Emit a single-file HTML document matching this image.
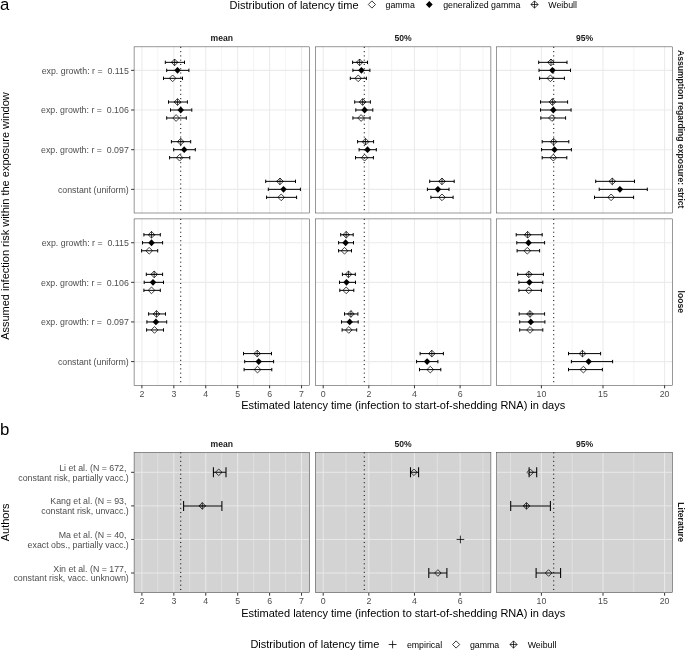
<!DOCTYPE html>
<html><head><meta charset="utf-8"><title>Latency time figure</title>
<style>html,body{margin:0;padding:0;background:#fff}svg{display:block}</style>
</head><body>
<svg width="685" height="651" viewBox="0 0 685 651" font-family="'Liberation Sans', sans-serif">
<rect width="685" height="651" fill="#fff"/>
<rect x="134.1" y="46.85" width="175.4" height="166.15" fill="#fff"/>
<path d="M157.87 46.85V213M189.8 46.85V213M221.73 46.85V213M253.66 46.85V213M285.59 46.85V213" stroke="#ebebeb" stroke-width="0.53" fill="none"/>
<path d="M141.9 46.85V213M173.83 46.85V213M205.76 46.85V213M237.69 46.85V213M269.62 46.85V213M301.55 46.85V213M134.1 70.35H309.5M134.1 110H309.5M134.1 149.7H309.5M134.1 189.35H309.5" stroke="#ebebeb" stroke-width="1.07" fill="none"/>
<path d="M180.72 46.85V213" stroke="#000" stroke-width="1" stroke-dasharray="1.05 3.22" fill="none"/>
<path d="M165.3 62.35H184.5M165.3 60.65V64.05M184.5 60.65V64.05" stroke="#000" stroke-width="1.0" fill="none"/>
<polygon points="174.6,59 177.95,62.35 174.6,65.7 171.25,62.35" fill="none" stroke="#000" stroke-width="0.75"/><path d="M171.25 62.35H177.95M174.6 59V65.7" stroke="#000" stroke-width="0.75" fill="none"/>
<path d="M166.7 70.35H188.9M166.7 68.65V72.05M188.9 68.65V72.05" stroke="#000" stroke-width="1.0" fill="none"/>
<polygon points="177.5,66.93 180.78,70.35 177.5,73.77 174.22,70.35" fill="#000"/>
<path d="M163.5 78.35H182.5M163.5 76.65V80.05M182.5 76.65V80.05" stroke="#000" stroke-width="1.0" fill="none"/>
<polygon points="172.6,75 175.95,78.35 172.6,81.7 169.25,78.35" fill="none" stroke="#000" stroke-width="0.75"/>
<path d="M168.5 102H187.4M168.5 100.3V103.7M187.4 100.3V103.7" stroke="#000" stroke-width="1.0" fill="none"/>
<polygon points="177.5,98.65 180.85,102 177.5,105.35 174.15,102" fill="none" stroke="#000" stroke-width="0.75"/><path d="M174.15 102H180.85M177.5 98.65V105.35" stroke="#000" stroke-width="0.75" fill="none"/>
<path d="M170.5 110H191.8M170.5 108.3V111.7M191.8 108.3V111.7" stroke="#000" stroke-width="1.0" fill="none"/>
<polygon points="180.7,106.58 183.98,110 180.7,113.42 177.42,110" fill="#000"/>
<path d="M166.7 118H186.3M166.7 116.3V119.7M186.3 116.3V119.7" stroke="#000" stroke-width="1.0" fill="none"/>
<polygon points="176.1,114.65 179.45,118 176.1,121.35 172.75,118" fill="none" stroke="#000" stroke-width="0.75"/>
<path d="M171.4 141.7H190.7M171.4 140V143.4M190.7 140V143.4" stroke="#000" stroke-width="1.0" fill="none"/>
<polygon points="180.7,138.35 184.05,141.7 180.7,145.05 177.35,141.7" fill="none" stroke="#000" stroke-width="0.75"/><path d="M177.35 141.7H184.05M180.7 138.35V145.05" stroke="#000" stroke-width="0.75" fill="none"/>
<path d="M173.7 149.7H195.3M173.7 148V151.4M195.3 148V151.4" stroke="#000" stroke-width="1.0" fill="none"/>
<polygon points="184.2,146.28 187.48,149.7 184.2,153.12 180.92,149.7" fill="#000"/>
<path d="M169.6 157.7H189.8M169.6 156V159.4M189.8 156V159.4" stroke="#000" stroke-width="1.0" fill="none"/>
<polygon points="179.6,154.35 182.95,157.7 179.6,161.05 176.25,157.7" fill="none" stroke="#000" stroke-width="0.75"/>
<path d="M265.7 181.35H295.5M265.7 179.65V183.05M295.5 179.65V183.05" stroke="#000" stroke-width="1.0" fill="none"/>
<polygon points="280,178 283.35,181.35 280,184.7 276.65,181.35" fill="none" stroke="#000" stroke-width="0.75"/><path d="M276.65 181.35H283.35M280 178V184.7" stroke="#000" stroke-width="0.75" fill="none"/>
<path d="M268.3 189.35H300.4M268.3 187.65V191.05M300.4 187.65V191.05" stroke="#000" stroke-width="1.0" fill="none"/>
<polygon points="283.5,185.93 286.78,189.35 283.5,192.77 280.22,189.35" fill="#000"/>
<path d="M266.6 197.35H296.6M266.6 195.65V199.05M296.6 195.65V199.05" stroke="#000" stroke-width="1.0" fill="none"/>
<polygon points="281.2,194 284.55,197.35 281.2,200.7 277.85,197.35" fill="none" stroke="#000" stroke-width="0.75"/>
<rect x="134.1" y="46.85" width="175.4" height="166.15" fill="none" stroke="#333" stroke-width="0.5"/>
<rect x="315.3" y="46.85" width="175.6" height="166.15" fill="#fff"/>
<path d="M346.02 46.85V213M391.66 46.85V213M437.3 46.85V213M482.94 46.85V213" stroke="#ebebeb" stroke-width="0.53" fill="none"/>
<path d="M323.2 46.85V213M368.84 46.85V213M414.48 46.85V213M460.12 46.85V213M315.3 70.35H490.9M315.3 110H490.9M315.3 149.7H490.9M315.3 189.35H490.9" stroke="#ebebeb" stroke-width="1.07" fill="none"/>
<path d="M364.28 46.85V213" stroke="#000" stroke-width="1" stroke-dasharray="1.05 3.22" fill="none"/>
<path d="M352.6 62.35H367.5M352.6 60.65V64.05M367.5 60.65V64.05" stroke="#000" stroke-width="1.0" fill="none"/>
<polygon points="359.6,59 362.95,62.35 359.6,65.7 356.25,62.35" fill="none" stroke="#000" stroke-width="0.75"/><path d="M356.25 62.35H362.95M359.6 59V65.7" stroke="#000" stroke-width="0.75" fill="none"/>
<path d="M352.9 70.35H369.9M352.9 68.65V72.05M369.9 68.65V72.05" stroke="#000" stroke-width="1.0" fill="none"/>
<polygon points="361.4,66.93 364.68,70.35 361.4,73.77 358.12,70.35" fill="#000"/>
<path d="M350.3 78.35H366.4M350.3 76.65V80.05M366.4 76.65V80.05" stroke="#000" stroke-width="1.0" fill="none"/>
<polygon points="358.2,75 361.55,78.35 358.2,81.7 354.85,78.35" fill="none" stroke="#000" stroke-width="0.75"/>
<path d="M354.7 102H370.4M354.7 100.3V103.7M370.4 100.3V103.7" stroke="#000" stroke-width="1.0" fill="none"/>
<polygon points="362.6,98.65 365.95,102 362.6,105.35 359.25,102" fill="none" stroke="#000" stroke-width="0.75"/><path d="M359.25 102H365.95M362.6 98.65V105.35" stroke="#000" stroke-width="0.75" fill="none"/>
<path d="M355.8 110H372.8M355.8 108.3V111.7M372.8 108.3V111.7" stroke="#000" stroke-width="1.0" fill="none"/>
<polygon points="364.6,106.58 367.88,110 364.6,113.42 361.32,110" fill="#000"/>
<path d="M352.9 118H370.1M352.9 116.3V119.7M370.1 116.3V119.7" stroke="#000" stroke-width="1.0" fill="none"/>
<polygon points="361.1,114.65 364.45,118 361.1,121.35 357.75,118" fill="none" stroke="#000" stroke-width="0.75"/>
<path d="M357.6 141.7H373.6M357.6 140V143.4M373.6 140V143.4" stroke="#000" stroke-width="1.0" fill="none"/>
<polygon points="365.5,138.35 368.85,141.7 365.5,145.05 362.15,141.7" fill="none" stroke="#000" stroke-width="0.75"/><path d="M362.15 141.7H368.85M365.5 138.35V145.05" stroke="#000" stroke-width="0.75" fill="none"/>
<path d="M359.1 149.7H376.3M359.1 148V151.4M376.3 148V151.4" stroke="#000" stroke-width="1.0" fill="none"/>
<polygon points="367.5,146.28 370.78,149.7 367.5,153.12 364.22,149.7" fill="#000"/>
<path d="M355.5 157.7H373.4M355.5 156V159.4M373.4 156V159.4" stroke="#000" stroke-width="1.0" fill="none"/>
<polygon points="364.6,154.35 367.95,157.7 364.6,161.05 361.25,157.7" fill="none" stroke="#000" stroke-width="0.75"/>
<path d="M429.7 181.35H454.2M429.7 179.65V183.05M454.2 179.65V183.05" stroke="#000" stroke-width="1.0" fill="none"/>
<polygon points="442,178 445.35,181.35 442,184.7 438.65,181.35" fill="none" stroke="#000" stroke-width="0.75"/><path d="M438.65 181.35H445.35M442 178V184.7" stroke="#000" stroke-width="0.75" fill="none"/>
<path d="M427.4 189.35H449M427.4 187.65V191.05M449 187.65V191.05" stroke="#000" stroke-width="1.0" fill="none"/>
<polygon points="437.9,185.93 441.18,189.35 437.9,192.77 434.62,189.35" fill="#000"/>
<path d="M430.9 197.35H453.1M430.9 195.65V199.05M453.1 195.65V199.05" stroke="#000" stroke-width="1.0" fill="none"/>
<polygon points="442,194 445.35,197.35 442,200.7 438.65,197.35" fill="none" stroke="#000" stroke-width="0.75"/>
<rect x="315.3" y="46.85" width="175.6" height="166.15" fill="none" stroke="#333" stroke-width="0.5"/>
<rect x="496.6" y="46.85" width="175.8" height="166.15" fill="#fff"/>
<path d="M510.6 46.85V213M572.2 46.85V213M633.8 46.85V213" stroke="#ebebeb" stroke-width="0.53" fill="none"/>
<path d="M541.4 46.85V213M603 46.85V213M664.6 46.85V213M496.6 70.35H672.4M496.6 110H672.4M496.6 149.7H672.4M496.6 189.35H672.4" stroke="#ebebeb" stroke-width="1.07" fill="none"/>
<path d="M553.72 46.85V213" stroke="#000" stroke-width="1" stroke-dasharray="1.05 3.22" fill="none"/>
<path d="M538.7 62.35H567M538.7 60.65V64.05M567 60.65V64.05" stroke="#000" stroke-width="1.0" fill="none"/>
<polygon points="551,59 554.35,62.35 551,65.7 547.65,62.35" fill="none" stroke="#000" stroke-width="0.75"/><path d="M547.65 62.35H554.35M551 59V65.7" stroke="#000" stroke-width="0.75" fill="none"/>
<path d="M539 70.35H570.5M539 68.65V72.05M570.5 68.65V72.05" stroke="#000" stroke-width="1.0" fill="none"/>
<polygon points="552.4,66.93 555.68,70.35 552.4,73.77 549.12,70.35" fill="#000"/>
<path d="M539.6 78.35H564.4M539.6 76.65V80.05M564.4 76.65V80.05" stroke="#000" stroke-width="1.0" fill="none"/>
<polygon points="550.4,75 553.75,78.35 550.4,81.7 547.05,78.35" fill="none" stroke="#000" stroke-width="0.75"/>
<path d="M540.5 102H567.6M540.5 100.3V103.7M567.6 100.3V103.7" stroke="#000" stroke-width="1.0" fill="none"/>
<polygon points="552.4,98.65 555.75,102 552.4,105.35 549.05,102" fill="none" stroke="#000" stroke-width="0.75"/><path d="M549.05 102H555.75M552.4 98.65V105.35" stroke="#000" stroke-width="0.75" fill="none"/>
<path d="M540.5 110H571.1M540.5 108.3V111.7M571.1 108.3V111.7" stroke="#000" stroke-width="1.0" fill="none"/>
<polygon points="553.3,106.58 556.58,110 553.3,113.42 550.02,110" fill="#000"/>
<path d="M540.8 118H565.6M540.8 116.3V119.7M565.6 116.3V119.7" stroke="#000" stroke-width="1.0" fill="none"/>
<polygon points="551.9,114.65 555.25,118 551.9,121.35 548.55,118" fill="none" stroke="#000" stroke-width="0.75"/>
<path d="M542.2 141.7H568.8M542.2 140V143.4M568.8 140V143.4" stroke="#000" stroke-width="1.0" fill="none"/>
<polygon points="553.6,138.35 556.95,141.7 553.6,145.05 550.25,141.7" fill="none" stroke="#000" stroke-width="0.75"/><path d="M550.25 141.7H556.95M553.6 138.35V145.05" stroke="#000" stroke-width="0.75" fill="none"/>
<path d="M541.6 149.7H571.4M541.6 148V151.4M571.4 148V151.4" stroke="#000" stroke-width="1.0" fill="none"/>
<polygon points="554.5,146.28 557.78,149.7 554.5,153.12 551.22,149.7" fill="#000"/>
<path d="M542.2 157.7H566.8M542.2 156V159.4M566.8 156V159.4" stroke="#000" stroke-width="1.0" fill="none"/>
<polygon points="553.3,154.35 556.65,157.7 553.3,161.05 549.95,157.7" fill="none" stroke="#000" stroke-width="0.75"/>
<path d="M595.7 181.35H634.5M595.7 179.65V183.05M634.5 179.65V183.05" stroke="#000" stroke-width="1.0" fill="none"/>
<polygon points="612.3,178 615.65,181.35 612.3,184.7 608.95,181.35" fill="none" stroke="#000" stroke-width="0.75"/><path d="M608.95 181.35H615.65M612.3 178V184.7" stroke="#000" stroke-width="0.75" fill="none"/>
<path d="M599.2 189.35H647.3M599.2 187.65V191.05M647.3 187.65V191.05" stroke="#000" stroke-width="1.0" fill="none"/>
<polygon points="619.9,185.93 623.18,189.35 619.9,192.77 616.62,189.35" fill="#000"/>
<path d="M594.5 197.35H633.6M594.5 195.65V199.05M633.6 195.65V199.05" stroke="#000" stroke-width="1.0" fill="none"/>
<polygon points="611.1,194 614.45,197.35 611.1,200.7 607.75,197.35" fill="none" stroke="#000" stroke-width="0.75"/>
<rect x="496.6" y="46.85" width="175.8" height="166.15" fill="none" stroke="#333" stroke-width="0.5"/>
<path d="M131.1 70.35H134.1" stroke="#333" stroke-width="1"/>
<text x="128.8" y="73.55" font-size="8.8" fill="#4d4d4d" text-anchor="end" xml:space="preserve">exp. growth: r =  0.115</text>
<path d="M131.1 110H134.1" stroke="#333" stroke-width="1"/>
<text x="128.8" y="113.2" font-size="8.8" fill="#4d4d4d" text-anchor="end" xml:space="preserve">exp. growth: r =  0.106</text>
<path d="M131.1 149.7H134.1" stroke="#333" stroke-width="1"/>
<text x="128.8" y="152.9" font-size="8.8" fill="#4d4d4d" text-anchor="end" xml:space="preserve">exp. growth: r =  0.097</text>
<path d="M131.1 189.35H134.1" stroke="#333" stroke-width="1"/>
<text x="128.8" y="192.55" font-size="8.8" fill="#4d4d4d" text-anchor="end" xml:space="preserve">constant (uniform)</text>
<rect x="134.1" y="218.9" width="175.4" height="166.5" fill="#fff"/>
<path d="M157.87 218.9V385.4M189.8 218.9V385.4M221.73 218.9V385.4M253.66 218.9V385.4M285.59 218.9V385.4" stroke="#ebebeb" stroke-width="0.53" fill="none"/>
<path d="M141.9 218.9V385.4M173.83 218.9V385.4M205.76 218.9V385.4M237.69 218.9V385.4M269.62 218.9V385.4M301.55 218.9V385.4M134.1 242.75H309.5M134.1 282.35H309.5M134.1 321.95H309.5M134.1 361.6H309.5" stroke="#ebebeb" stroke-width="1.07" fill="none"/>
<path d="M180.72 218.9V385.4" stroke="#000" stroke-width="1" stroke-dasharray="1.05 3.22" fill="none"/>
<path d="M143.9 234.75H160.3M143.9 233.05V236.45M160.3 233.05V236.45" stroke="#000" stroke-width="1.0" fill="none"/>
<polygon points="151.5,231.4 154.85,234.75 151.5,238.1 148.15,234.75" fill="none" stroke="#000" stroke-width="0.75"/><path d="M148.15 234.75H154.85M151.5 231.4V238.1" stroke="#000" stroke-width="0.75" fill="none"/>
<path d="M142.5 242.75H162.6M142.5 241.05V244.45M162.6 241.05V244.45" stroke="#000" stroke-width="1.0" fill="none"/>
<polygon points="151.5,239.33 154.78,242.75 151.5,246.17 148.22,242.75" fill="#000"/>
<path d="M141.6 250.75H157.7M141.6 249.05V252.45M157.7 249.05V252.45" stroke="#000" stroke-width="1.0" fill="none"/>
<polygon points="149.2,247.4 152.55,250.75 149.2,254.1 145.85,250.75" fill="none" stroke="#000" stroke-width="0.75"/>
<path d="M146.3 274.35H162.6M146.3 272.65V276.05M162.6 272.65V276.05" stroke="#000" stroke-width="1.0" fill="none"/>
<polygon points="154.2,271 157.55,274.35 154.2,277.7 150.85,274.35" fill="none" stroke="#000" stroke-width="0.75"/><path d="M150.85 274.35H157.55M154.2 271V277.7" stroke="#000" stroke-width="0.75" fill="none"/>
<path d="M144.2 282.35H163.5M144.2 280.65V284.05M163.5 280.65V284.05" stroke="#000" stroke-width="1.0" fill="none"/>
<polygon points="153,278.93 156.28,282.35 153,285.77 149.72,282.35" fill="#000"/>
<path d="M143.9 290.35H160.3M143.9 288.65V292.05M160.3 288.65V292.05" stroke="#000" stroke-width="1.0" fill="none"/>
<polygon points="151.5,287 154.85,290.35 151.5,293.7 148.15,290.35" fill="none" stroke="#000" stroke-width="0.75"/>
<path d="M148.6 313.95H165.5M148.6 312.25V315.65M165.5 312.25V315.65" stroke="#000" stroke-width="1.0" fill="none"/>
<polygon points="156.5,310.6 159.85,313.95 156.5,317.3 153.15,313.95" fill="none" stroke="#000" stroke-width="0.75"/><path d="M153.15 313.95H159.85M156.5 310.6V317.3" stroke="#000" stroke-width="0.75" fill="none"/>
<path d="M146.9 321.95H166.7M146.9 320.25V323.65M166.7 320.25V323.65" stroke="#000" stroke-width="1.0" fill="none"/>
<polygon points="155.9,318.53 159.18,321.95 155.9,325.37 152.62,321.95" fill="#000"/>
<path d="M146.6 329.95H163.5M146.6 328.25V331.65M163.5 328.25V331.65" stroke="#000" stroke-width="1.0" fill="none"/>
<polygon points="154.5,326.6 157.85,329.95 154.5,333.3 151.15,329.95" fill="none" stroke="#000" stroke-width="0.75"/>
<path d="M243.5 353.6H271.5M243.5 351.9V355.3M271.5 351.9V355.3" stroke="#000" stroke-width="1.0" fill="none"/>
<polygon points="257.2,350.25 260.55,353.6 257.2,356.95 253.85,353.6" fill="none" stroke="#000" stroke-width="0.75"/><path d="M253.85 353.6H260.55M257.2 350.25V356.95" stroke="#000" stroke-width="0.75" fill="none"/>
<path d="M244.7 361.6H273.6M244.7 359.9V363.3M273.6 359.9V363.3" stroke="#000" stroke-width="1.0" fill="none"/>
<polygon points="258.7,358.18 261.98,361.6 258.7,365.02 255.42,361.6" fill="#000"/>
<path d="M244.1 369.6H271.8M244.1 367.9V371.3M271.8 367.9V371.3" stroke="#000" stroke-width="1.0" fill="none"/>
<polygon points="257.5,366.25 260.85,369.6 257.5,372.95 254.15,369.6" fill="none" stroke="#000" stroke-width="0.75"/>
<rect x="134.1" y="218.9" width="175.4" height="166.5" fill="none" stroke="#333" stroke-width="0.5"/>
<rect x="315.3" y="218.9" width="175.6" height="166.5" fill="#fff"/>
<path d="M346.02 218.9V385.4M391.66 218.9V385.4M437.3 218.9V385.4M482.94 218.9V385.4" stroke="#ebebeb" stroke-width="0.53" fill="none"/>
<path d="M323.2 218.9V385.4M368.84 218.9V385.4M414.48 218.9V385.4M460.12 218.9V385.4M315.3 242.75H490.9M315.3 282.35H490.9M315.3 321.95H490.9M315.3 361.6H490.9" stroke="#ebebeb" stroke-width="1.07" fill="none"/>
<path d="M364.28 218.9V385.4" stroke="#000" stroke-width="1" stroke-dasharray="1.05 3.22" fill="none"/>
<path d="M340.7 234.75H353.2M340.7 233.05V236.45M353.2 233.05V236.45" stroke="#000" stroke-width="1.0" fill="none"/>
<polygon points="346.2,231.4 349.55,234.75 346.2,238.1 342.85,234.75" fill="none" stroke="#000" stroke-width="0.75"/><path d="M342.85 234.75H349.55M346.2 231.4V238.1" stroke="#000" stroke-width="0.75" fill="none"/>
<path d="M338.6 242.75H353.5M338.6 241.05V244.45M353.5 241.05V244.45" stroke="#000" stroke-width="1.0" fill="none"/>
<polygon points="345.6,239.33 348.88,242.75 345.6,246.17 342.32,242.75" fill="#000"/>
<path d="M338.6 250.75H351.5M338.6 249.05V252.45M351.5 249.05V252.45" stroke="#000" stroke-width="1.0" fill="none"/>
<polygon points="344.5,247.4 347.85,250.75 344.5,254.1 341.15,250.75" fill="none" stroke="#000" stroke-width="0.75"/>
<path d="M342.4 274.35H355.3M342.4 272.65V276.05M355.3 272.65V276.05" stroke="#000" stroke-width="1.0" fill="none"/>
<polygon points="348.5,271 351.85,274.35 348.5,277.7 345.15,274.35" fill="none" stroke="#000" stroke-width="0.75"/><path d="M345.15 274.35H351.85M348.5 271V277.7" stroke="#000" stroke-width="0.75" fill="none"/>
<path d="M339.5 282.35H355.5M339.5 280.65V284.05M355.5 280.65V284.05" stroke="#000" stroke-width="1.0" fill="none"/>
<polygon points="346.5,278.93 349.78,282.35 346.5,285.77 343.22,282.35" fill="#000"/>
<path d="M339.8 290.35H353.8M339.8 288.65V292.05M353.8 288.65V292.05" stroke="#000" stroke-width="1.0" fill="none"/>
<polygon points="346.2,287 349.55,290.35 346.2,293.7 342.85,290.35" fill="none" stroke="#000" stroke-width="0.75"/>
<path d="M344.5 313.95H357.9M344.5 312.25V315.65M357.9 312.25V315.65" stroke="#000" stroke-width="1.0" fill="none"/>
<polygon points="350.9,310.6 354.25,313.95 350.9,317.3 347.55,313.95" fill="none" stroke="#000" stroke-width="0.75"/><path d="M347.55 313.95H354.25M350.9 310.6V317.3" stroke="#000" stroke-width="0.75" fill="none"/>
<path d="M341.5 321.95H358.2M341.5 320.25V323.65M358.2 320.25V323.65" stroke="#000" stroke-width="1.0" fill="none"/>
<polygon points="349.7,318.53 352.98,321.95 349.7,325.37 346.42,321.95" fill="#000"/>
<path d="M342.1 329.95H356.7M342.1 328.25V331.65M356.7 328.25V331.65" stroke="#000" stroke-width="1.0" fill="none"/>
<polygon points="348.8,326.6 352.15,329.95 348.8,333.3 345.45,329.95" fill="none" stroke="#000" stroke-width="0.75"/>
<path d="M420.1 353.6H443.4M420.1 351.9V355.3M443.4 351.9V355.3" stroke="#000" stroke-width="1.0" fill="none"/>
<polygon points="431.8,350.25 435.15,353.6 431.8,356.95 428.45,353.6" fill="none" stroke="#000" stroke-width="0.75"/><path d="M428.45 353.6H435.15M431.8 350.25V356.95" stroke="#000" stroke-width="0.75" fill="none"/>
<path d="M416.6 361.6H437.9M416.6 359.9V363.3M437.9 359.9V363.3" stroke="#000" stroke-width="1.0" fill="none"/>
<polygon points="427.1,358.18 430.38,361.6 427.1,365.02 423.82,361.6" fill="#000"/>
<path d="M419.5 369.6H440.8M419.5 367.9V371.3M440.8 367.9V371.3" stroke="#000" stroke-width="1.0" fill="none"/>
<polygon points="430.3,366.25 433.65,369.6 430.3,372.95 426.95,369.6" fill="none" stroke="#000" stroke-width="0.75"/>
<rect x="315.3" y="218.9" width="175.6" height="166.5" fill="none" stroke="#333" stroke-width="0.5"/>
<rect x="496.6" y="218.9" width="175.8" height="166.5" fill="#fff"/>
<path d="M510.6 218.9V385.4M572.2 218.9V385.4M633.8 218.9V385.4" stroke="#ebebeb" stroke-width="0.53" fill="none"/>
<path d="M541.4 218.9V385.4M603 218.9V385.4M664.6 218.9V385.4M496.6 242.75H672.4M496.6 282.35H672.4M496.6 321.95H672.4M496.6 361.6H672.4" stroke="#ebebeb" stroke-width="1.07" fill="none"/>
<path d="M553.72 218.9V385.4" stroke="#000" stroke-width="1" stroke-dasharray="1.05 3.22" fill="none"/>
<path d="M516.2 234.75H542.2M516.2 233.05V236.45M542.2 233.05V236.45" stroke="#000" stroke-width="1.0" fill="none"/>
<polygon points="527.6,231.4 530.95,234.75 527.6,238.1 524.25,234.75" fill="none" stroke="#000" stroke-width="0.75"/><path d="M524.25 234.75H530.95M527.6 231.4V238.1" stroke="#000" stroke-width="0.75" fill="none"/>
<path d="M516.8 242.75H544.6M516.8 241.05V244.45M544.6 241.05V244.45" stroke="#000" stroke-width="1.0" fill="none"/>
<polygon points="528.5,239.33 531.78,242.75 528.5,246.17 525.22,242.75" fill="#000"/>
<path d="M517.1 250.75H539.6M517.1 249.05V252.45M539.6 249.05V252.45" stroke="#000" stroke-width="1.0" fill="none"/>
<polygon points="527.3,247.4 530.65,250.75 527.3,254.1 523.95,250.75" fill="none" stroke="#000" stroke-width="0.75"/>
<path d="M517.7 274.35H543.4M517.7 272.65V276.05M543.4 272.65V276.05" stroke="#000" stroke-width="1.0" fill="none"/>
<polygon points="528.8,271 532.15,274.35 528.8,277.7 525.45,274.35" fill="none" stroke="#000" stroke-width="0.75"/><path d="M525.45 274.35H532.15M528.8 271V277.7" stroke="#000" stroke-width="0.75" fill="none"/>
<path d="M518.9 282.35H542.8M518.9 280.65V284.05M542.8 280.65V284.05" stroke="#000" stroke-width="1.0" fill="none"/>
<polygon points="529.4,278.93 532.68,282.35 529.4,285.77 526.12,282.35" fill="#000"/>
<path d="M518.9 290.35H541.4M518.9 288.65V292.05M541.4 288.65V292.05" stroke="#000" stroke-width="1.0" fill="none"/>
<polygon points="528.8,287 532.15,290.35 528.8,293.7 525.45,290.35" fill="none" stroke="#000" stroke-width="0.75"/>
<path d="M519.2 313.95H544.6M519.2 312.25V315.65M544.6 312.25V315.65" stroke="#000" stroke-width="1.0" fill="none"/>
<polygon points="530,310.6 533.35,313.95 530,317.3 526.65,313.95" fill="none" stroke="#000" stroke-width="0.75"/><path d="M526.65 313.95H533.35M530 310.6V317.3" stroke="#000" stroke-width="0.75" fill="none"/>
<path d="M519.7 321.95H544.9M519.7 320.25V323.65M544.9 320.25V323.65" stroke="#000" stroke-width="1.0" fill="none"/>
<polygon points="530.8,318.53 534.08,321.95 530.8,325.37 527.52,321.95" fill="#000"/>
<path d="M519.7 329.95H542.8M519.7 328.25V331.65M542.8 328.25V331.65" stroke="#000" stroke-width="1.0" fill="none"/>
<polygon points="530,326.6 533.35,329.95 530,333.3 526.65,329.95" fill="none" stroke="#000" stroke-width="0.75"/>
<path d="M568.5 353.6H600.6M568.5 351.9V355.3M600.6 351.9V355.3" stroke="#000" stroke-width="1.0" fill="none"/>
<polygon points="582.5,350.25 585.85,353.6 582.5,356.95 579.15,353.6" fill="none" stroke="#000" stroke-width="0.75"/><path d="M579.15 353.6H585.85M582.5 350.25V356.95" stroke="#000" stroke-width="0.75" fill="none"/>
<path d="M571.4 361.6H612.6M571.4 359.9V363.3M612.6 359.9V363.3" stroke="#000" stroke-width="1.0" fill="none"/>
<polygon points="588.6,358.18 591.88,361.6 588.6,365.02 585.32,361.6" fill="#000"/>
<path d="M568.5 369.6H602.4M568.5 367.9V371.3M602.4 367.9V371.3" stroke="#000" stroke-width="1.0" fill="none"/>
<polygon points="583.4,366.25 586.75,369.6 583.4,372.95 580.05,369.6" fill="none" stroke="#000" stroke-width="0.75"/>
<rect x="496.6" y="218.9" width="175.8" height="166.5" fill="none" stroke="#333" stroke-width="0.5"/>
<path d="M131.1 242.75H134.1" stroke="#333" stroke-width="1"/>
<text x="128.8" y="245.95" font-size="8.8" fill="#4d4d4d" text-anchor="end" xml:space="preserve">exp. growth: r =  0.115</text>
<path d="M131.1 282.35H134.1" stroke="#333" stroke-width="1"/>
<text x="128.8" y="285.55" font-size="8.8" fill="#4d4d4d" text-anchor="end" xml:space="preserve">exp. growth: r =  0.106</text>
<path d="M131.1 321.95H134.1" stroke="#333" stroke-width="1"/>
<text x="128.8" y="325.15" font-size="8.8" fill="#4d4d4d" text-anchor="end" xml:space="preserve">exp. growth: r =  0.097</text>
<path d="M131.1 361.6H134.1" stroke="#333" stroke-width="1"/>
<text x="128.8" y="364.8" font-size="8.8" fill="#4d4d4d" text-anchor="end" xml:space="preserve">constant (uniform)</text>
<path d="M141.9 385.3V388.3" stroke="#333" stroke-width="1"/>
<text x="141.9" y="396.9" font-size="8.8" fill="#4d4d4d" text-anchor="middle">2</text>
<path d="M173.83 385.3V388.3" stroke="#333" stroke-width="1"/>
<text x="173.83" y="396.9" font-size="8.8" fill="#4d4d4d" text-anchor="middle">3</text>
<path d="M205.76 385.3V388.3" stroke="#333" stroke-width="1"/>
<text x="205.76" y="396.9" font-size="8.8" fill="#4d4d4d" text-anchor="middle">4</text>
<path d="M237.69 385.3V388.3" stroke="#333" stroke-width="1"/>
<text x="237.69" y="396.9" font-size="8.8" fill="#4d4d4d" text-anchor="middle">5</text>
<path d="M269.62 385.3V388.3" stroke="#333" stroke-width="1"/>
<text x="269.62" y="396.9" font-size="8.8" fill="#4d4d4d" text-anchor="middle">6</text>
<path d="M301.55 385.3V388.3" stroke="#333" stroke-width="1"/>
<text x="301.55" y="396.9" font-size="8.8" fill="#4d4d4d" text-anchor="middle">7</text>
<path d="M323.2 385.3V388.3" stroke="#333" stroke-width="1"/>
<text x="323.2" y="396.9" font-size="8.8" fill="#4d4d4d" text-anchor="middle">0</text>
<path d="M368.84 385.3V388.3" stroke="#333" stroke-width="1"/>
<text x="368.84" y="396.9" font-size="8.8" fill="#4d4d4d" text-anchor="middle">2</text>
<path d="M414.48 385.3V388.3" stroke="#333" stroke-width="1"/>
<text x="414.48" y="396.9" font-size="8.8" fill="#4d4d4d" text-anchor="middle">4</text>
<path d="M460.12 385.3V388.3" stroke="#333" stroke-width="1"/>
<text x="460.12" y="396.9" font-size="8.8" fill="#4d4d4d" text-anchor="middle">6</text>
<path d="M541.4 385.3V388.3" stroke="#333" stroke-width="1"/>
<text x="541.4" y="396.9" font-size="8.8" fill="#4d4d4d" text-anchor="middle">10</text>
<path d="M603 385.3V388.3" stroke="#333" stroke-width="1"/>
<text x="603" y="396.9" font-size="8.8" fill="#4d4d4d" text-anchor="middle">15</text>
<path d="M664.6 385.3V388.3" stroke="#333" stroke-width="1"/>
<text x="664.6" y="396.9" font-size="8.8" fill="#4d4d4d" text-anchor="middle">20</text>
<path d="M141.9 592.7V595.7" stroke="#333" stroke-width="1"/>
<text x="141.9" y="604.3" font-size="8.8" fill="#4d4d4d" text-anchor="middle">2</text>
<path d="M173.83 592.7V595.7" stroke="#333" stroke-width="1"/>
<text x="173.83" y="604.3" font-size="8.8" fill="#4d4d4d" text-anchor="middle">3</text>
<path d="M205.76 592.7V595.7" stroke="#333" stroke-width="1"/>
<text x="205.76" y="604.3" font-size="8.8" fill="#4d4d4d" text-anchor="middle">4</text>
<path d="M237.69 592.7V595.7" stroke="#333" stroke-width="1"/>
<text x="237.69" y="604.3" font-size="8.8" fill="#4d4d4d" text-anchor="middle">5</text>
<path d="M269.62 592.7V595.7" stroke="#333" stroke-width="1"/>
<text x="269.62" y="604.3" font-size="8.8" fill="#4d4d4d" text-anchor="middle">6</text>
<path d="M301.55 592.7V595.7" stroke="#333" stroke-width="1"/>
<text x="301.55" y="604.3" font-size="8.8" fill="#4d4d4d" text-anchor="middle">7</text>
<path d="M323.2 592.7V595.7" stroke="#333" stroke-width="1"/>
<text x="323.2" y="604.3" font-size="8.8" fill="#4d4d4d" text-anchor="middle">0</text>
<path d="M368.84 592.7V595.7" stroke="#333" stroke-width="1"/>
<text x="368.84" y="604.3" font-size="8.8" fill="#4d4d4d" text-anchor="middle">2</text>
<path d="M414.48 592.7V595.7" stroke="#333" stroke-width="1"/>
<text x="414.48" y="604.3" font-size="8.8" fill="#4d4d4d" text-anchor="middle">4</text>
<path d="M460.12 592.7V595.7" stroke="#333" stroke-width="1"/>
<text x="460.12" y="604.3" font-size="8.8" fill="#4d4d4d" text-anchor="middle">6</text>
<path d="M541.4 592.7V595.7" stroke="#333" stroke-width="1"/>
<text x="541.4" y="604.3" font-size="8.8" fill="#4d4d4d" text-anchor="middle">10</text>
<path d="M603 592.7V595.7" stroke="#333" stroke-width="1"/>
<text x="603" y="604.3" font-size="8.8" fill="#4d4d4d" text-anchor="middle">15</text>
<path d="M664.6 592.7V595.7" stroke="#333" stroke-width="1"/>
<text x="664.6" y="604.3" font-size="8.8" fill="#4d4d4d" text-anchor="middle">20</text>
<text x="221.8" y="41.2" font-size="8.6" font-weight="bold" fill="#1a1a1a" text-anchor="middle">mean</text>
<text x="221.8" y="446.6" font-size="8.6" font-weight="bold" fill="#1a1a1a" text-anchor="middle">mean</text>
<text x="403.1" y="41.2" font-size="8.6" font-weight="bold" fill="#1a1a1a" text-anchor="middle">50%</text>
<text x="403.1" y="446.6" font-size="8.6" font-weight="bold" fill="#1a1a1a" text-anchor="middle">50%</text>
<text x="584.5" y="41.2" font-size="8.6" font-weight="bold" fill="#1a1a1a" text-anchor="middle">95%</text>
<text x="584.5" y="446.6" font-size="8.6" font-weight="bold" fill="#1a1a1a" text-anchor="middle">95%</text>
<text transform="translate(678 129.2) rotate(90)" font-size="8.6" font-weight="bold" fill="#1a1a1a" text-anchor="middle">Assumption regarding exposure: strict</text>
<text transform="translate(678 301.8) rotate(90)" font-size="8.6" font-weight="bold" fill="#1a1a1a" text-anchor="middle">loose</text>
<text transform="translate(678 522.1) rotate(90)" font-size="8.6" font-weight="bold" fill="#1a1a1a" text-anchor="middle">Literature</text>
<text x="403.2" y="409.2" font-size="11" fill="#000" text-anchor="middle">Estimated latency time (infection to start-of-shedding RNA) in days</text>
<text x="403.2" y="616.8" font-size="11" fill="#000" text-anchor="middle">Estimated latency time (infection to start-of-shedding RNA) in days</text>
<text transform="translate(8.9 216.05) rotate(-90)" font-size="11" fill="#000" text-anchor="middle">Assumed infection risk within the exposure window</text>
<text transform="translate(8.9 522.35) rotate(-90)" font-size="11" fill="#000" text-anchor="middle">Authors</text>
<text x="0" y="9.6" font-size="16.8" fill="#000">a</text>
<text x="0" y="434.7" font-size="16.8" fill="#000">b</text>
<rect x="134.1" y="452.3" width="175.4" height="140.4" fill="#d3d3d3"/>
<path d="M157.87 452.3V592.7M189.8 452.3V592.7M221.73 452.3V592.7M253.66 452.3V592.7M285.59 452.3V592.7" stroke="#e9e9e9" stroke-width="0.6" fill="none"/>
<path d="M141.9 452.3V592.7M173.83 452.3V592.7M205.76 452.3V592.7M237.69 452.3V592.7M269.62 452.3V592.7M301.55 452.3V592.7M134.1 472.3H309.5M134.1 505.9H309.5M134.1 539.45H309.5M134.1 573H309.5" stroke="#e9e9e9" stroke-width="1.0" fill="none"/>
<path d="M180.72 452.3V592.7" stroke="#000" stroke-width="1" stroke-dasharray="1.05 3.22" fill="none"/>
<rect x="315.3" y="452.3" width="175.6" height="140.4" fill="#d3d3d3"/>
<path d="M346.02 452.3V592.7M391.66 452.3V592.7M437.3 452.3V592.7M482.94 452.3V592.7" stroke="#e9e9e9" stroke-width="0.6" fill="none"/>
<path d="M323.2 452.3V592.7M368.84 452.3V592.7M414.48 452.3V592.7M460.12 452.3V592.7M315.3 472.3H490.9M315.3 505.9H490.9M315.3 539.45H490.9M315.3 573H490.9" stroke="#e9e9e9" stroke-width="1.0" fill="none"/>
<path d="M364.28 452.3V592.7" stroke="#000" stroke-width="1" stroke-dasharray="1.05 3.22" fill="none"/>
<rect x="496.6" y="452.3" width="175.8" height="140.4" fill="#d3d3d3"/>
<path d="M510.6 452.3V592.7M572.2 452.3V592.7M633.8 452.3V592.7" stroke="#e9e9e9" stroke-width="0.6" fill="none"/>
<path d="M541.4 452.3V592.7M603 452.3V592.7M664.6 452.3V592.7M496.6 472.3H672.4M496.6 505.9H672.4M496.6 539.45H672.4M496.6 573H672.4" stroke="#e9e9e9" stroke-width="1.0" fill="none"/>
<path d="M553.72 452.3V592.7" stroke="#000" stroke-width="1" stroke-dasharray="1.05 3.22" fill="none"/>
<path d="M213.4 472.3H226M213.4 467.3V477.3M226 467.3V477.3" stroke="#000" stroke-width="1.05" fill="none"/>
<polygon points="218.7,469 222,472.3 218.7,475.6 215.4,472.3" fill="none" stroke="#000" stroke-width="0.75"/>
<path d="M183.6 505.9H221.9M183.6 500.9V510.9M221.9 500.9V510.9" stroke="#000" stroke-width="1.05" fill="none"/>
<polygon points="202.3,502.6 205.6,505.9 202.3,509.2 199,505.9" fill="none" stroke="#000" stroke-width="0.75"/><path d="M199 505.9H205.6M202.3 502.6V509.2" stroke="#000" stroke-width="0.75" fill="none"/>
<path d="M410.5 472.3H418.6M410.5 467.3V477.3M418.6 467.3V477.3" stroke="#000" stroke-width="1.05" fill="none"/>
<polygon points="413.9,469 417.2,472.3 413.9,475.6 410.6,472.3" fill="none" stroke="#000" stroke-width="0.75"/>
<path d="M456.55 539.45H464.25M460.4 535.6V543.3" stroke="#000" stroke-width="0.8" fill="none"/>
<path d="M428.8 573H446.9M428.8 568V578M446.9 568V578" stroke="#000" stroke-width="1.05" fill="none"/>
<polygon points="437.9,569.7 441.2,573 437.9,576.3 434.6,573" fill="none" stroke="#000" stroke-width="0.75"/>
<path d="M529.1 472.3H536.7M529.1 467.3V477.3M536.7 467.3V477.3" stroke="#000" stroke-width="1.05" fill="none"/>
<polygon points="530.3,469 533.6,472.3 530.3,475.6 527,472.3" fill="none" stroke="#000" stroke-width="0.75"/>
<path d="M510.7 505.9H550.4M510.7 500.9V510.9M550.4 500.9V510.9" stroke="#000" stroke-width="1.05" fill="none"/>
<polygon points="526.5,502.6 529.8,505.9 526.5,509.2 523.2,505.9" fill="none" stroke="#000" stroke-width="0.75"/><path d="M523.2 505.9H529.8M526.5 502.6V509.2" stroke="#000" stroke-width="0.75" fill="none"/>
<path d="M536.1 573H560.6M536.1 568V578M560.6 568V578" stroke="#000" stroke-width="1.05" fill="none"/>
<polygon points="548.6,569.7 551.9,573 548.6,576.3 545.3,573" fill="none" stroke="#000" stroke-width="0.75"/>
<rect x="134.1" y="452.3" width="175.4" height="140.4" fill="none" stroke="#333" stroke-width="0.5"/>
<rect x="315.3" y="452.3" width="175.6" height="140.4" fill="none" stroke="#333" stroke-width="0.5"/>
<rect x="496.6" y="452.3" width="175.8" height="140.4" fill="none" stroke="#333" stroke-width="0.5"/>
<path d="M131.1 472.3H134.1" stroke="#333" stroke-width="1"/>
<text x="126.4" y="470.8" font-size="8.8" fill="#4d4d4d" text-anchor="end">Li et al. (N = 672,</text>
<text x="128.8" y="480.5" font-size="8.8" fill="#4d4d4d" text-anchor="end">constant risk, partially vacc.)</text>
<path d="M131.1 505.9H134.1" stroke="#333" stroke-width="1"/>
<text x="126.4" y="504.4" font-size="8.8" fill="#4d4d4d" text-anchor="end">Kang et al. (N = 93,</text>
<text x="128.8" y="514.1" font-size="8.8" fill="#4d4d4d" text-anchor="end">constant risk, unvacc.)</text>
<path d="M131.1 539.45H134.1" stroke="#333" stroke-width="1"/>
<text x="126.4" y="537.95" font-size="8.8" fill="#4d4d4d" text-anchor="end">Ma et al. (N = 40,</text>
<text x="128.8" y="547.65" font-size="8.8" fill="#4d4d4d" text-anchor="end">exact obs., partially vacc.)</text>
<path d="M131.1 573H134.1" stroke="#333" stroke-width="1"/>
<text x="126.4" y="571.5" font-size="8.8" fill="#4d4d4d" text-anchor="end">Xin et al. (N = 177,</text>
<text x="128.8" y="581.2" font-size="8.8" fill="#4d4d4d" text-anchor="end">constant risk, vacc. unknown)</text>
<text x="229.6" y="8.6" font-size="11" fill="#000">Distribution of latency time</text>
<polygon points="371.9,0.9 375.5,4.5 371.9,8.1 368.3,4.5" fill="none" stroke="#000" stroke-width="0.75"/>
<text x="385.5" y="7.8" font-size="8.8" fill="#000">gamma</text>
<polygon points="429.3,0.98 432.68,4.5 429.3,8.02 425.92,4.5" fill="#000"/>
<text x="443.2" y="7.8" font-size="8.8" fill="#000">generalized gamma</text>
<polygon points="534.5,0.9 538.1,4.5 534.5,8.1 530.9,4.5" fill="none" stroke="#000" stroke-width="0.75"/><path d="M530.9 4.5H538.1M534.5 0.9V8.1" stroke="#000" stroke-width="0.75" fill="none"/>
<text x="548.3" y="7.8" font-size="8.8" fill="#000">Weibull</text>
<text x="250.4" y="648" font-size="11" fill="#000">Distribution of latency time</text>
<path d="M388.7 644.5H396.5M392.6 640.7V648.3" stroke="#000" stroke-width="0.8" fill="none"/>
<text x="406.9" y="647.6" font-size="8.8" fill="#000">empirical</text>
<polygon points="456.1,640.9 459.7,644.5 456.1,648.1 452.5,644.5" fill="none" stroke="#000" stroke-width="0.75"/>
<text x="469.9" y="647.6" font-size="8.8" fill="#000">gamma</text>
<polygon points="513.5,640.9 517.1,644.5 513.5,648.1 509.9,644.5" fill="none" stroke="#000" stroke-width="0.75"/><path d="M509.9 644.5H517.1M513.5 640.9V648.1" stroke="#000" stroke-width="0.75" fill="none"/>
<text x="527.7" y="647.6" font-size="8.8" fill="#000">Weibull</text>
</svg>
</body></html>
